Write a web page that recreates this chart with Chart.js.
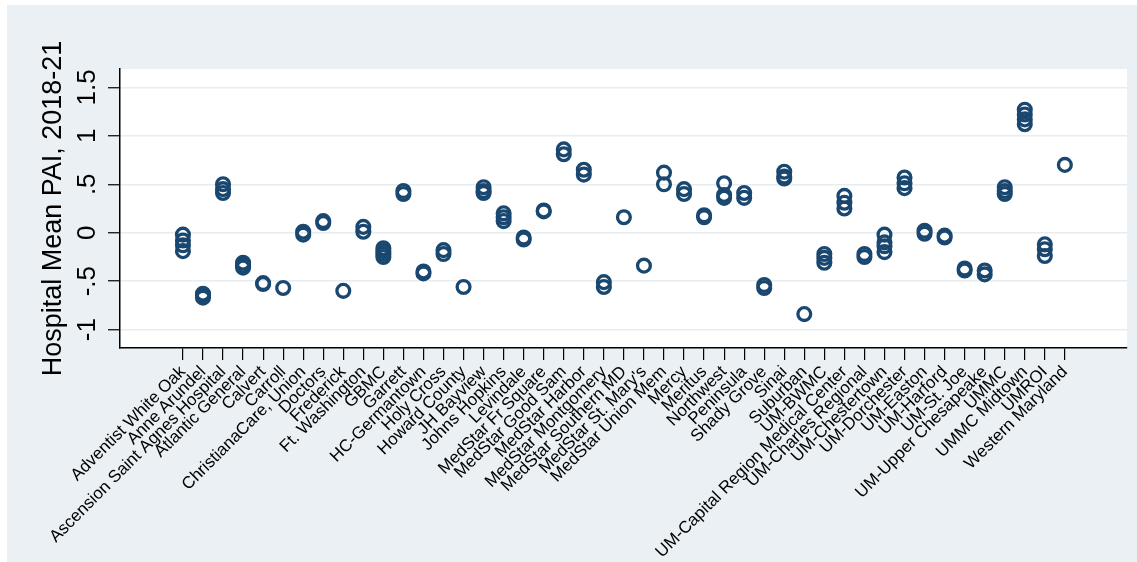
<!DOCTYPE html>
<html>
<head>
<meta charset="utf-8">
<script src="https://cdn.jsdelivr.net/npm/chart.js@4"></script>
<style>
  html, body { margin: 0; padding: 0; background: #fff; }
</style>
</head>
<body>
<canvas id="pai" width="1137" height="562"></canvas>
<script>
const hospitals = [
  "Adventist White Oak", "Anne Arundel", "Ascension Saint Agnes Hospital", "Atlantic General",
  "Calvert", "Carroll", "ChristianaCare, Union", "Doctors", "Frederick", "Ft. Washington",
  "GBMC", "Garrett", "HC-Germantown", "Holy Cross", "Howard County", "JH Bayview",
  "Johns Hopkins", "Levindale", "MedStar Fr Square", "MedStar Good Sam", "MedStar Harbor",
  "MedStar Montgomery", "MedStar Southern MD", "MedStar St. Mary's", "MedStar Union Mem",
  "Mercy", "Meritus", "Northwest", "Peninsula", "Shady Grove", "Sinai", "Suburban",
  "UM-BWMC", "UM-Capital Region Medical Center", "UM-Charles Regional", "UM-Chestertown",
  "UM-Dorchester", "UM-Easton", "UM-Harford", "UM-St. Joe", "UM-Upper Chesapeake",
  "UMMC", "UMMC Midtown", "UMROI", "Western Maryland"
];

// yearly mean PAI per hospital, 2018-21 (overlapping circles)
const paiValues = [
  [-0.02, -0.08, -0.13, -0.19], [-0.63, -0.65, -0.67], [0.50, 0.45, 0.41], [-0.31, -0.34, -0.36],
  [-0.52, -0.53], [-0.57], [0.01, -0.02], [0.12, 0.10], [-0.60], [0.06, 0.01],
  [-0.16, -0.19, -0.22, -0.25], [0.43, 0.40], [-0.40, -0.42], [-0.18, -0.22], [-0.56], [0.47, 0.43, 0.41],
  [0.20, 0.16, 0.12], [-0.05, -0.07], [0.23, 0.22], [0.86, 0.81], [0.65, 0.60],
  [-0.51, -0.56], [0.16], [-0.34], [0.62, 0.50],
  [0.45, 0.40], [0.18, 0.16], [0.51, 0.39, 0.36], [0.41, 0.36], [-0.54, -0.57], [0.63, 0.58, 0.56], [-0.84],
  [-0.22, -0.26, -0.31], [0.38, 0.31, 0.25], [-0.22, -0.25], [-0.02, -0.10, -0.14, -0.20],
  [0.57, 0.51, 0.46], [0.02, -0.01], [-0.03, -0.05], [-0.37, -0.39], [-0.39, -0.43],
  [0.47, 0.43, 0.40], [1.27, 1.22, 1.17, 1.12], [-0.12, -0.17, -0.24], [0.70]
];

const yTickValues = [-1, -0.5, 0, 0.5, 1, 1.5];
const yTickLabels = ["-1", "-.5", "0", ".5", "1", "1.5"];

const points = [];
hospitals.forEach((h, i) => {
  paiValues[i].forEach(v => points.push({ x: i, y: v }));
});

const FONT = "'Liberation Sans', Arial, Helvetica, sans-serif";

// stata-like backdrop: grey outer region, white plot region
const backdrop = {
  id: "backdrop",
  beforeDraw(chart) {
    const { ctx, chartArea: a } = chart;
    ctx.save();
    ctx.fillStyle = "#eaf0f3";
    ctx.fillRect(7, 5, chart.width - 7, chart.height - 5);
    ctx.fillStyle = "#fff";
    ctx.fillRect(a.left, a.top, a.right - a.left, a.bottom - a.top);
    ctx.restore();
  }
};

new Chart(document.getElementById("pai"), {
  type: "scatter",
  data: {
    datasets: [{
      data: points,
      pointStyle: "circle",
      pointRadius: 6.4,
      pointHoverRadius: 6.4,
      borderWidth: 3.3,
      borderColor: "#1a476f",
      backgroundColor: "rgba(0,0,0,0)"
    }]
  },
  options: {
    responsive: false,
    animation: false,
    layout: { padding: { left: 7, top: 69, right: 10, bottom: 0 } },
    plugins: { legend: { display: false }, tooltip: { enabled: false } },
    scales: {
      x: {
        type: "linear",
        min: -3.14,
        max: 47.1,
        afterBuildTicks: s => { s.ticks = hospitals.map((_, i) => ({ value: i })); },
        afterFit: s => { s.height = 214; },
        border: { color: "#000", width: 1.5 },
        grid: { drawOnChartArea: false, color: "#000", tickLength: 12, lineWidth: 1.2 },
        ticks: {
          autoSkip: false,
          minRotation: 45,
          maxRotation: 45,
          padding: 2,
          color: "#000",
          font: { family: FONT, size: 17 },
          callback: v => hospitals[v]
        }
      },
      y: {
        min: -1.19,
        max: 1.69,
        afterBuildTicks: s => { s.ticks = yTickValues.map(v => ({ value: v })); },
        afterFit: s => { s.width = 113; },
        border: { color: "#000", width: 1.5 },
        grid: { color: "#e6edf0", lineWidth: 1.5, tickColor: "#000", tickLength: 12, tickWidth: 1.2 },
        ticks: {
          minRotation: 90,
          maxRotation: 90,
          crossAlign: "center",
          padding: 2,
          color: "#000",
          font: { family: FONT, size: 26 },
          callback: v => yTickLabels[yTickValues.indexOf(v)]
        },
        title: {
          display: true,
          text: "Hospital Mean PAI, 2018-21",
          color: "#000",
          font: { family: FONT, size: 27 },
          padding: { top: 30, bottom: 0 }
        }
      }
    }
  },
  plugins: [backdrop]
});
</script>
</body>
</html>
